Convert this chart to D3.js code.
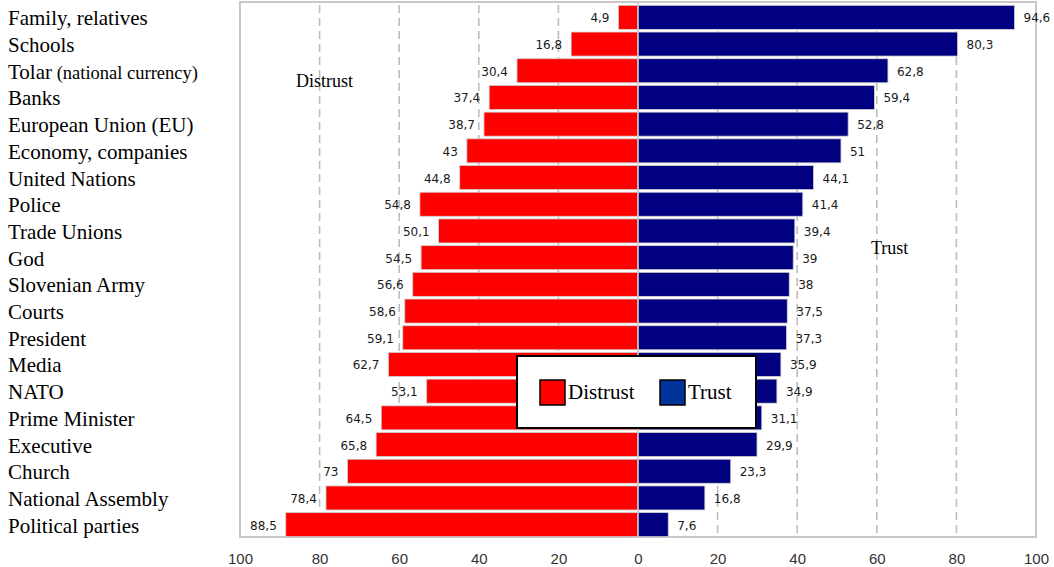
<!DOCTYPE html>
<html>
<head>
	<title>Trust and distrust in institutions</title>
	<script src="https://d3js.org/d3.v7.min.js"></script>
	<style>
		body { margin: 0; background: #fff; }
	</style>
</head>
<body>
<section id="container"></section>
<script>
//Values, top row first
var categories = ["Family, relatives", "Schools", "Tolar", "Banks",
	"European Union (EU)", "Economy, companies", "United Nations", "Police", "Trade Unions",
	"God", "Slovenian Army", "Courts", "President", "Media", "NATO", "Prime Minister",
	"Executive", "Church", "National Assembly", "Political parties"];
//small print after a category name
var notes = { "Tolar": "(national currency)" };
var distrust = [4.9, 16.8, 30.4, 37.4, 38.7, 43, 44.8, 54.8, 50.1, 54.5, 56.6, 58.6, 59.1,
	62.7, 53.1, 64.5, 65.8, 73, 78.4, 88.5];
var trust = [94.6, 80.3, 62.8, 59.4, 52.8, 51, 44.1, 41.4, 39.4, 39, 38, 37.5, 37.3,
	35.9, 34.9, 31.1, 29.9, 23.3, 16.8, 7.6];
var ticks = [-100, -80, -60, -40, -20, 0, 20, 40, 60, 80, 100];
var gridTicks = [-80, -60, -40, -20, 20, 40, 60, 80];

var red = "#ff0000", navy = "#000080", legendBlue = "#003399";
var fmt = function(v) { return String(v).replace(".", ","); };

var svg = d3.select("#container")
	.append("svg")
	.attr("width", 1054)
	.attr("height", 567);

var x = d3.scaleLinear().domain([-100, 100]).range([240, 1036]);
var y = d3.scaleBand().domain(categories).range([4, 538])
	.paddingInner(0.1).paddingOuter(0.05);

var rows = categories.map(function(c, i) {
	return { name: c, d: distrust[i], t: trust[i] };
});

//Frame of the plot
svg.append("rect")
	.attr("x", x(-100)).attr("y", 2)
	.attr("width", x(100) - x(-100)).attr("height", 535)
	.attr("fill", "none").attr("stroke", "#c8c8c8").attr("stroke-width", 2);

//Dashed gridlines
svg.selectAll("line.grid")
	.data(gridTicks).enter()
	.append("line")
	.attr("class", "grid")
	.attr("x1", function(d) { return x(d); })
	.attr("x2", function(d) { return x(d); })
	.attr("y1", 5).attr("y2", 537)
	.attr("stroke", "#bdbdbd").attr("stroke-width", 1.6)
	.attr("stroke-dasharray", "8,5");

//Distrust bars
svg.selectAll("rect.distrust")
	.data(rows).enter()
	.append("rect")
	.attr("class", "distrust")
	.attr("x", function(d) { return x(-d.d); })
	.attr("y", function(d) { return y(d.name); })
	.attr("width", function(d) { return x(0) - x(-d.d); })
	.attr("height", y.bandwidth())
	.attr("fill", red).attr("stroke", "#d0d0d0").attr("stroke-width", 0.8);

//Trust bars
svg.selectAll("rect.trust")
	.data(rows).enter()
	.append("rect")
	.attr("class", "trust")
	.attr("x", x(0))
	.attr("y", function(d) { return y(d.name); })
	.attr("width", function(d) { return x(d.t) - x(0); })
	.attr("height", y.bandwidth())
	.attr("fill", navy).attr("stroke", "#d0d0d0").attr("stroke-width", 0.8);

//Zero line
svg.append("line")
	.attr("x1", x(0)).attr("x2", x(0))
	.attr("y1", 2).attr("y2", 537)
	.attr("stroke", "#c8c8c8").attr("stroke-width", 1.5);

//Value labels
svg.selectAll("text.dlab")
	.data(rows).enter()
	.append("text")
	.attr("class", "dlab")
	.attr("x", function(d) { return x(-d.d) - 9; })
	.attr("y", function(d) { return y(d.name) + y.bandwidth() / 2 + 5; })
	.attr("text-anchor", "end")
	.attr("font-family", "DejaVu Sans").attr("font-size", 12).attr("fill", "#1a1a1a")
	.text(function(d) { return fmt(d.d); });

svg.selectAll("text.tlab")
	.data(rows).enter()
	.append("text")
	.attr("class", "tlab")
	.attr("x", function(d) { return x(d.t) + 9; })
	.attr("y", function(d) { return y(d.name) + y.bandwidth() / 2 + 5; })
	.attr("font-family", "DejaVu Sans").attr("font-size", 12).attr("fill", "#1a1a1a")
	.text(function(d) { return fmt(d.t); });

//Category labels, with the note set smaller
var cat = svg.selectAll("text.cat")
	.data(categories).enter()
	.append("text")
	.attr("class", "cat")
	.attr("x", 8)
	.attr("y", function(d) { return y(d) + y.bandwidth() / 2 + 8; })
	.attr("font-family", "Liberation Serif").attr("font-size", 21).attr("fill", "#000");
cat.each(function(d) {
	var t = d3.select(this);
	t.append("tspan").text(d);
	if (notes[d]) {
		t.append("tspan").attr("font-size", 18.5).text(" " + notes[d]);
	}
});

//Bottom axis
var axis = svg.append("g")
	.attr("transform", "translate(0,550)")
	.call(d3.axisBottom(x).tickValues(ticks).tickSize(0)
		.tickFormat(function(d) { return Math.abs(d); }));
axis.select(".domain").remove();
axis.selectAll("text")
	.attr("font-family", "Liberation Sans").attr("font-size", 15).attr("fill", "#333");

//Side annotations
svg.append("text").attr("x", 296).attr("y", 87)
	.attr("font-family", "Liberation Serif").attr("font-size", 18)
	.text("Distrust");
svg.append("text").attr("x", 871).attr("y", 254)
	.attr("font-family", "Liberation Serif").attr("font-size", 18)
	.text("Trust");

//Legend
var legend = svg.append("g");
legend.append("rect")
	.attr("x", 517).attr("y", 356).attr("width", 239).attr("height", 72)
	.attr("fill", "#fff").attr("stroke", "#000").attr("stroke-width", 2);
var items = [{ label: "Distrust", color: red, x: 540 }, { label: "Trust", color: legendBlue, x: 660 }];
items.forEach(function(it) {
	legend.append("rect")
		.attr("x", it.x).attr("y", 380).attr("width", 25).attr("height", 25)
		.attr("fill", it.color).attr("stroke", "#000").attr("stroke-width", 1.5);
	legend.append("text")
		.attr("x", it.x + 28).attr("y", 399)
		.attr("font-family", "Liberation Serif").attr("font-size", 21)
		.text(it.label);
});
</script>
</body>
</html>
